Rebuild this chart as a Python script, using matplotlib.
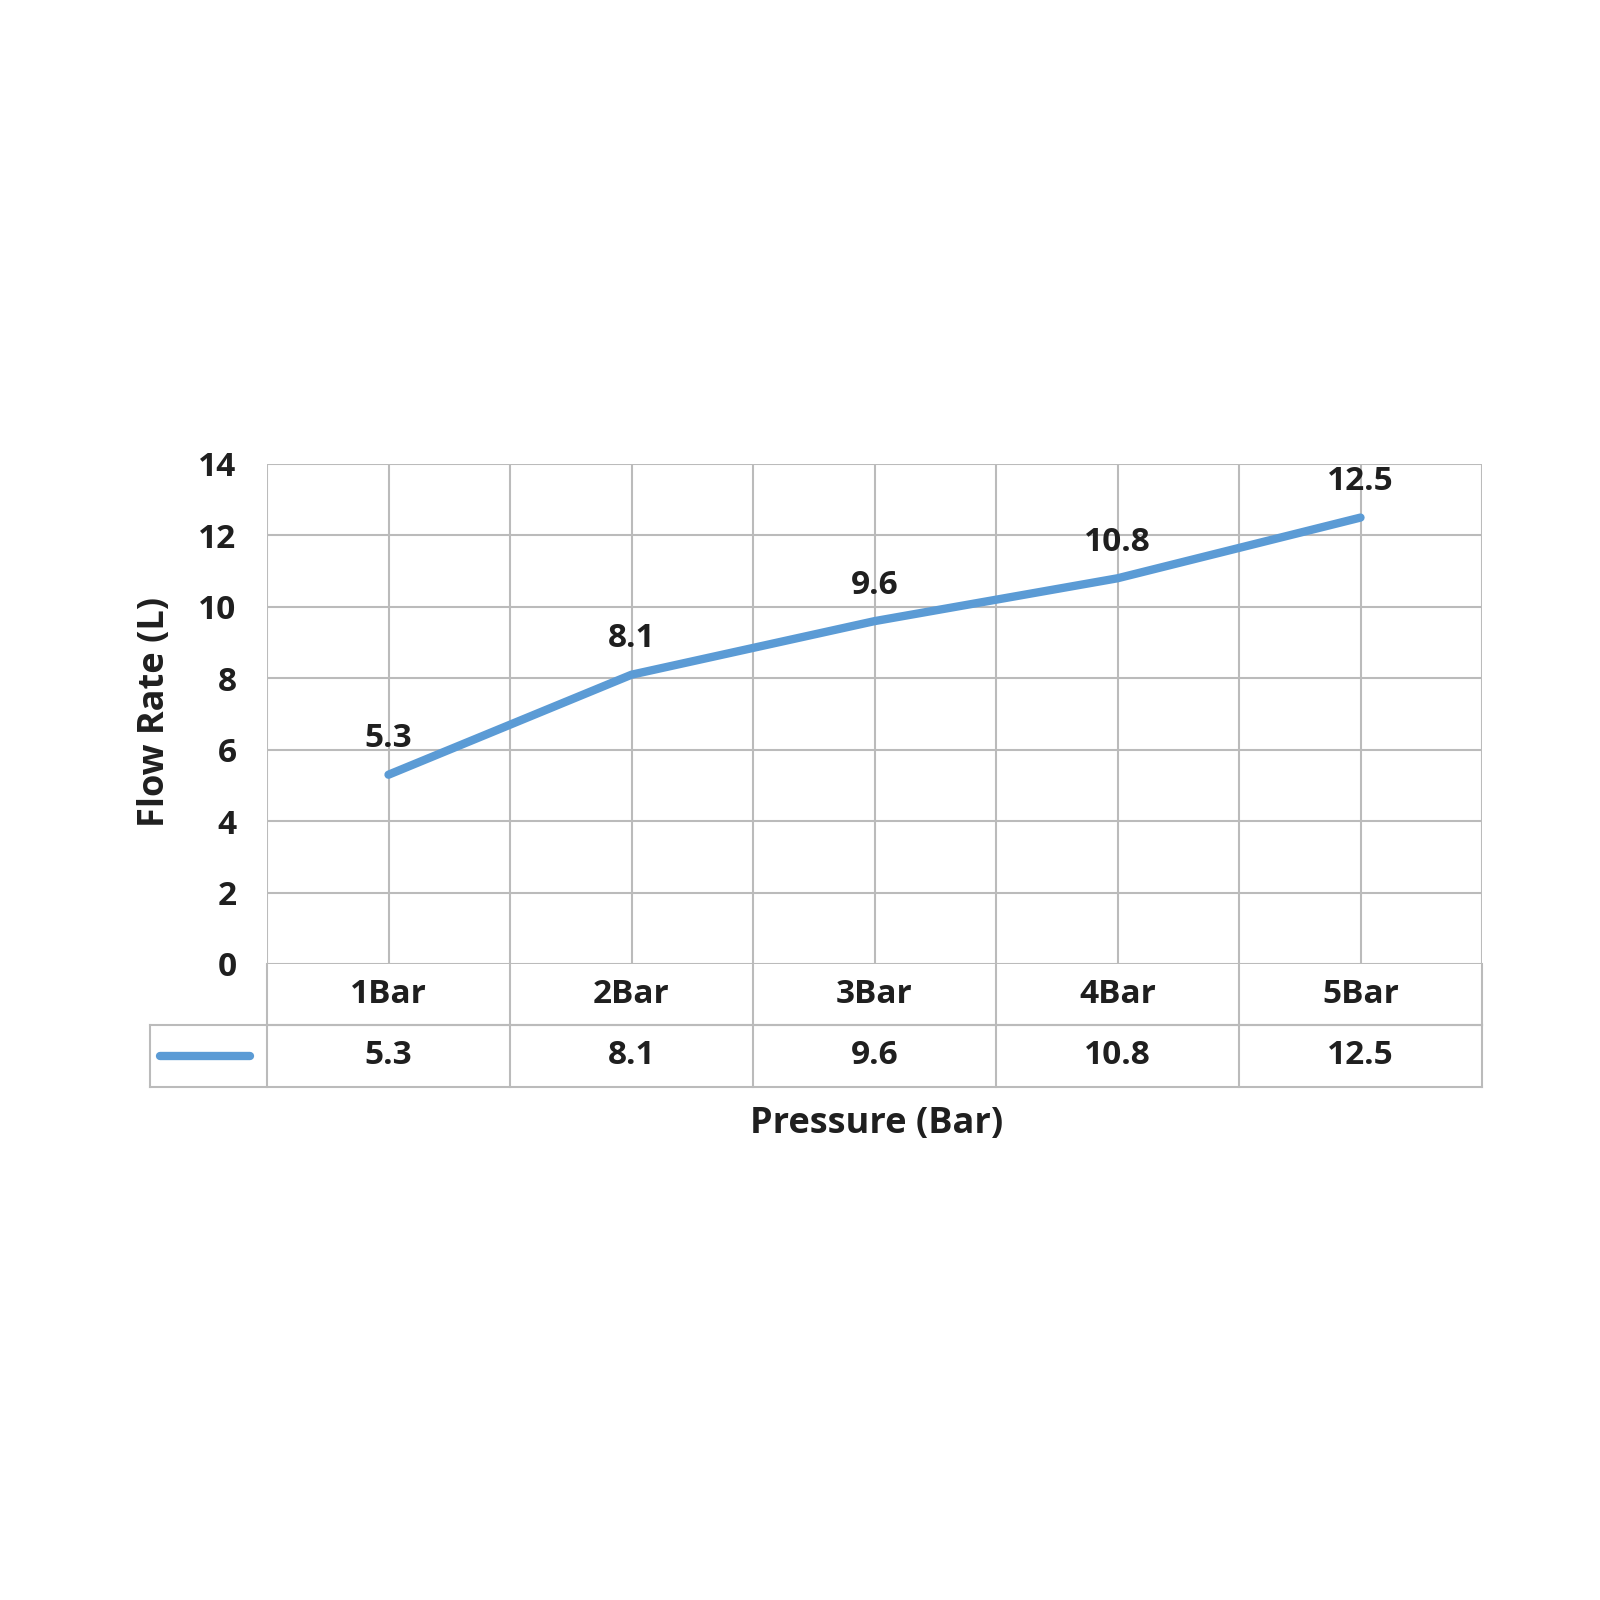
import matplotlib
matplotlib.use('Agg')
import matplotlib.pyplot as plt
import matplotlib.transforms as mtransforms

plt.rcParams['font.family'] = ['Open Sans', 'DejaVu Sans']
plt.rcParams['font.weight'] = 'bold'

# data
categories = ['1Bar', '2Bar', '3Bar', '4Bar', '5Bar']
flow = [5.3, 8.1, 9.6, 10.8, 12.5]
value_labels = ['5.3', '8.1', '9.6', '10.8', '12.5']

line_color = '#5B9BD5'
grid_color = '#BBBBBB'
text_color = '#1F1F1F'

fig = plt.figure(figsize=(16, 16), dpi=100)
ax = fig.add_axes([267 / 1600, 1 - 964 / 1600, (1482 - 267) / 1600, 500 / 1600])

x = list(range(len(categories)))
ax.plot(x, flow, color=line_color, lw=6, solid_capstyle='round', solid_joinstyle='round', zorder=3)
for xi, v, lab in zip(x, flow, value_labels):
    ax.annotate(lab, (xi, v), xytext=(0, 26), textcoords='offset points',
                ha='center', va='center', fontsize=24, fontweight='bold', color=text_color)

ax.set_xlim(-0.5, len(categories) - 0.5)
ax.set_ylim(0, 14)
ax.set_yticks(range(0, 15, 2))
ax.set_xticks([])
ax.tick_params(axis='y', length=0, pad=22, labelsize=24, labelcolor=text_color)
for t in ax.get_yticklabels():
    t.set_fontweight('bold')

# grid: horizontal every 2, vertical at band edges and centres
for yv in range(0, 15, 2):
    ax.axhline(yv, color=grid_color, lw=1.5, zorder=1)
for i in range(2 * len(categories) + 1):
    ax.axvline(-0.5 + i * 0.5, color=grid_color, lw=1.5, zorder=1)
for s in ax.spines.values():
    s.set_visible(False)

# data table under the plot
trans = mtransforms.blended_transform_factory(ax.transData, ax.transAxes)
row1 = -61 / 500
row2 = -123 / 500
left = -0.5 - 117 / 243
kw = dict(transform=trans, color=grid_color, lw=1.5, clip_on=False)
ax.plot([-0.5, 4.5], [row1, row1], **kw)
ax.plot([left, 4.5], [row1, row1], **kw)
ax.plot([left, 4.5], [row2, row2], **kw)
ax.plot([left, left], [row1, row2], **kw)
for i in range(len(categories) + 1):
    ax.plot([i - 0.5, i - 0.5], [0, row2], **kw)

for xi, cat, lab in zip(x, categories, value_labels):
    ax.text(xi, row1 / 2, cat, transform=trans, ha='center', va='center',
            fontsize=24, fontweight='bold', color=text_color)
    ax.text(xi, (row1 + row2) / 2, lab, transform=trans, ha='center', va='center',
            fontsize=24, fontweight='bold', color=text_color)

# legend key in the table
key_y = (row1 + row2) / 2
ax.plot([-0.5 - 107 / 243, -0.5 - 17 / 243], [key_y, key_y], transform=trans,
        color=line_color, lw=6, solid_capstyle='round', clip_on=False)

fig.text(155 / 1600, 1 - 712 / 1600, 'Flow Rate (L)', rotation=90, ha='center', va='center',
         fontsize=26, fontweight='bold', color=text_color)
fig.text(877 / 1600, 1 - 1124 / 1600, 'Pressure (Bar)', ha='center', va='center',
         fontsize=26, fontweight='bold', color=text_color)

fig.savefig('out.png', dpi=100, facecolor='white')
